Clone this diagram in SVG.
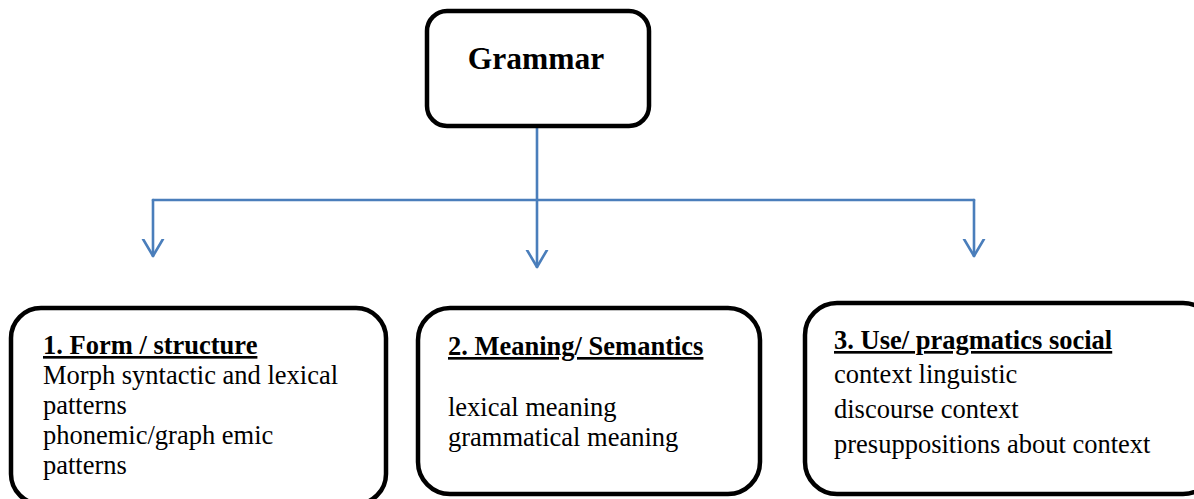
<svg xmlns="http://www.w3.org/2000/svg" width="1194" height="499" viewBox="0 0 1194 499">
<style>
.box{fill:#fff;stroke:#000;stroke-width:4.5}
.t{font-family:"Liberation Serif","Times New Roman",serif;font-size:26.5px;fill:#000}
.h{font-weight:bold;text-decoration:underline}
.title{font-weight:bold;font-size:31.5px}
.conn{fill:none;stroke:#4A7EBB;stroke-width:2.6;stroke-linecap:round;stroke-linejoin:round}
</style>
<defs>
<marker id="arr" markerUnits="userSpaceOnUse" markerWidth="30" markerHeight="30" refX="17" refY="10" orient="auto" viewBox="0 0 30 20">
<path d="M0,0 L17,10 L0,20" fill="none" stroke="#4A7EBB" stroke-width="2.6" stroke-linecap="round" stroke-linejoin="round"/>
</marker>
</defs>
<rect width="1194" height="499" fill="#fff"/>
<g id="connectors">
<path class="conn" d="M537,126 L537,267" marker-end="url(#arr)"/>
<path class="conn" d="M153,200 L974,200"/>
<path class="conn" d="M153,200 L153,256" marker-end="url(#arr)"/>
<path class="conn" d="M974,200 L974,256" marker-end="url(#arr)"/>
</g>
<g id="grammar">
<rect class="box" x="427" y="11" width="222" height="115" rx="20"/>
<text class="t title" x="536" y="69" text-anchor="middle">Grammar</text>
</g>
<g id="form">
<rect class="box" x="11" y="308" width="375" height="196" rx="30"/>
<text class="t h" x="43" y="354">1. Form / structure</text>
<text class="t" x="43" y="384">Morph syntactic and lexical</text>
<text class="t" x="43" y="414">patterns</text>
<text class="t" x="43" y="444">phonemic/graph emic</text>
<text class="t" x="43" y="474">patterns</text>
</g>
<g id="meaning">
<rect class="box" x="418" y="308" width="342" height="186" rx="32"/>
<text class="t h" x="448" y="355">2. Meaning/ Semantics</text>
<text class="t" x="448" y="416">lexical meaning</text>
<text class="t" x="448" y="446">grammatical meaning</text>
</g>
<g id="use">
<rect class="box" x="805" y="303" width="410" height="191" rx="32"/>
<text class="t h" x="834" y="349">3. Use/ pragmatics social</text>
<text class="t" x="834" y="383">context linguistic</text>
<text class="t" x="834" y="418">discourse context</text>
<text class="t" x="834" y="453">presuppositions about context</text>
</g>
</svg>
